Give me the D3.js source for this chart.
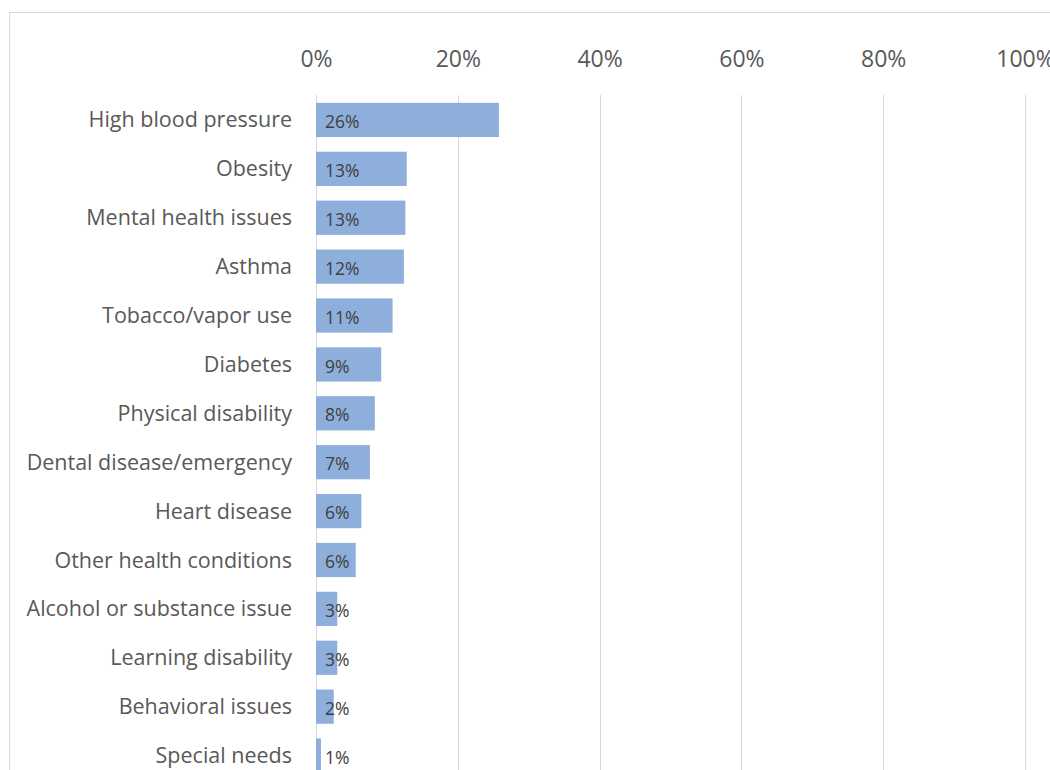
<!DOCTYPE html>
<html>
<head>
<meta charset="utf-8">
<script src="https://cdn.jsdelivr.net/npm/d3@7"></script>
<style>
  body { margin: 0; background: #fff; }
  text { font-family: "Open Sans", "Noto Sans", sans-serif; }
</style>
</head>
<body>
<div id="chart"></div>
<script>
var categories = ["High blood pressure", "Obesity", "Mental health issues", "Asthma",
  "Tobacco/vapor use", "Diabetes", "Physical disability", "Dental disease/emergency",
  "Heart disease", "Other health conditions", "Alcohol or substance issue",
  "Learning disability", "Behavioral issues", "Special needs"]
var values = [25.8, 12.8, 12.6, 12.4, 10.8, 9.2, 8.3, 7.6, 6.4, 5.6, 3.0, 3.0, 2.5, 0.7]
var labels = ["26%", "13%", "13%", "12%", "11%", "9%", "8%", "7%", "6%", "6%", "3%", "3%", "2%", "1%"]
var ticks = [0, 20, 40, 60, 80, 100]

var width = 1050, height = 770

var svg = d3.select("#chart").append("svg")
  .attr("width", width)
  .attr("height", height)

// outer chart border
svg.append("rect")
  .attr("x", 9.5).attr("y", 12.5)
  .attr("width", 1100).attr("height", 900)
  .style("fill", "none")
  .style("stroke", "#d9d9d9")

var xScale = d3.scaleLinear()
  .domain([0, 100])
  .range([316, 1025])

var yScale = d3.scaleBand()
  .domain(categories)
  .range([95.5, 780])
  .paddingInner(0.3)
  .paddingOuter(0.15)

// gridlines
svg.append("g")
  .selectAll("line")
  .data(ticks)
  .enter()
  .append("line")
    .attr("x1", d => Math.round(xScale(d)) + 0.5)
    .attr("x2", d => Math.round(xScale(d)) + 0.5)
    .attr("y1", 95)
    .attr("y2", 780)
    .style("stroke", "#d9d9d9")
    .style("stroke-width", 1)

// top axis
var xAxis = d3.axisTop(xScale)
  .tickValues(ticks)
  .tickSize(0)
  .tickPadding(0)
  .tickFormat(d => d + "%")

var axisG = svg.append("g")
  .attr("transform", "translate(0,67)")
  .call(xAxis)
axisG.select(".domain").remove()
axisG.selectAll("text")
  .attr("dy", 0)
  .style("font-size", "23px")
  .style("fill", "#595959")
  .style("font-family", "'Open Sans', sans-serif")

// bars
svg.append("g")
  .selectAll("rect")
  .data(categories)
  .enter()
  .append("rect")
    .attr("x", xScale(0))
    .attr("y", d => yScale(d))
    .attr("width", (d, i) => xScale(values[i]) - xScale(0))
    .attr("height", yScale.bandwidth())
    .style("fill", "#8eafdb")

// category labels
svg.append("g")
  .selectAll("text")
  .data(categories)
  .enter()
  .append("text")
    .attr("x", 292)
    .attr("y", d => yScale(d) + yScale.bandwidth() / 2)
    .attr("dy", "0.35em")
    .attr("text-anchor", "end")
    .style("font-size", "21.5px")
    .style("fill", "#595959")
    .text(d => d)

// value labels
svg.append("g")
  .selectAll("text")
  .data(labels)
  .enter()
  .append("text")
    .attr("x", xScale(0) + 9)
    .attr("y", (d, i) => yScale(categories[i]) + yScale.bandwidth() / 2 + 2)
    .attr("dy", "0.35em")
    .style("font-size", "17.5px")
    .style("fill", "#404040")
    .text(d => d)
</script>
</body>
</html>
